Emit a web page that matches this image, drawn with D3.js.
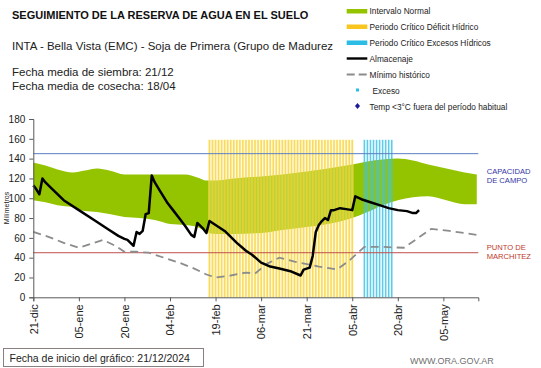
<!DOCTYPE html>
<html><head><meta charset="utf-8">
<script src="https://cdn.jsdelivr.net/npm/d3@7"></script>
<style>
body{margin:0;background:#fff;}
svg{display:block;font-family:"Liberation Sans",Arial,sans-serif;}
</style></head>
<body><svg id="c" width="541" height="368"></svg>
<script>
// ---- data ----
const xTickDates = ["2024-12-21","2025-01-05","2025-01-20","2025-02-04","2025-02-19","2025-03-06","2025-03-21","2025-04-05","2025-04-20","2025-05-05"];
const xTickLabels = ["21-dic","05-ene","20-ene","04-feb","19-feb","06-mar","21-mar","05-abr","20-abr","05-may"];
const yTicks = [0,20,40,60,80,100,120,140,160,180];

const bandDates = ["2024-12-21","2024-12-25","2024-12-29","2025-01-03","2025-01-07","2025-01-11","2025-01-15","2025-01-20","2025-01-25","2025-01-30","2025-02-04","2025-02-09","2025-02-13","2025-02-16","2025-02-19","2025-02-25","2025-03-06","2025-03-13","2025-03-21","2025-03-28","2025-04-05","2025-04-10","2025-04-15","2025-04-20","2025-04-25","2025-04-30","2025-05-06","2025-05-12","2025-05-16"];
const bandUpper = [136,133,129,126,128,130,128,124,124,124,124,124,121,118,118,120,122,124,127,130,134,137,139,140,138,134,130,126,124];
const bandLower = [98,96,93,91,87,86,84,81,80,78,74,73,71,66,64,64,65,68,71,74,80,86,93,98,101,102,98,94,94];

const storageDates = ["2024-12-21","2024-12-22","2024-12-23","2024-12-24","2024-12-25","2024-12-27","2024-12-31","2025-01-05","2025-01-10","2025-01-15","2025-01-18","2025-01-20","2025-01-21","2025-01-22","2025-01-23","2025-01-24","2025-01-25","2025-01-26","2025-01-27","2025-01-28","2025-01-29","2025-01-30","2025-02-01","2025-02-03","2025-02-05","2025-02-07","2025-02-09","2025-02-11","2025-02-12","2025-02-13","2025-02-14","2025-02-15","2025-02-16","2025-02-17","2025-02-19","2025-02-22","2025-02-26","2025-03-01","2025-03-03","2025-03-06","2025-03-09","2025-03-12","2025-03-16","2025-03-19","2025-03-20","2025-03-21","2025-03-22","2025-03-23","2025-03-24","2025-03-25","2025-03-26","2025-03-27","2025-03-28","2025-03-29","2025-03-30","2025-04-01","2025-04-03","2025-04-05","2025-04-06","2025-04-08","2025-04-11","2025-04-14","2025-04-17","2025-04-20","2025-04-23","2025-04-25","2025-04-26","2025-04-27"];
const storageValues = [113,109,104,120,116,110,98,88,78,68,62,59,58,55,52,66,64,67,84,85,123,116,106,96,88,80,72,63,61,75,72,69,65,77,73,67,55,47,43,35,31,29,26,22,28,29,30,42,66,73,77,80,78,88,88,90,89,88,102,99,96,93,90,88,87,85,85,88];

const minDates = ["2024-12-21","2024-12-26","2024-12-31","2025-01-05","2025-01-09","2025-01-13","2025-01-17","2025-01-20","2025-01-24","2025-01-28","2025-02-02","2025-02-07","2025-02-12","2025-02-16","2025-02-19","2025-02-24","2025-03-01","2025-03-04","2025-03-08","2025-03-12","2025-03-17","2025-03-25","2025-03-31","2025-04-04","2025-04-09","2025-04-14","2025-04-22","2025-05-01","2025-05-07","2025-05-16"];
const minValues = [66,61,55,50,54,58,52,46,46,45,40,35,29,23,20,22,25,24,34,40,36,31,28,37,51,51,50,69,67,63];

const deficitPeriod = ["2025-02-17","2025-04-05"];
const excessPeriod = ["2025-04-09","2025-04-18"];
const periodTop = 159;
const fieldCapacity = 145;
const wiltingPoint = 45;

// ---- setup ----
const P = d3.utcParse("%Y-%m-%d");
const svg = d3.select("#c");
const x = d3.scaleUtc().domain([P("2024-12-21"), new Date(Date.UTC(2025,4,16,12))]).range([33.3, 478.3]);
const y = d3.scaleLinear().domain([0,180]).range([297.3, 119]);

// band
const band = bandDates.map((d,i)=>({d:P(d),u:bandUpper[i],l:bandLower[i]}));
svg.append("path").datum(band)
  .attr("d", d3.area().x(d=>x(d.d)).y0(d=>y(d.l)).y1(d=>y(d.u)).curve(d3.curveMonotoneX))
  .attr("fill","#94c400");

// period bars
const defDays = d3.utcDay.range(P(deficitPeriod[0]), d3.utcDay.offset(P(deficitPeriod[1]),1));
svg.append("g").selectAll("rect").data(defDays).join("rect")
  .attr("x", d=>x(d)-1.5).attr("width",3).attr("y", y(periodTop)).attr("height", y(0)-y(periodTop))
  .attr("fill","#fff0a0").attr("opacity",0.4);
svg.append("g").selectAll("rect").data(defDays).join("rect")
  .attr("x", d=>x(d)-0.8).attr("width",1.6).attr("y", y(periodTop)).attr("height", y(0)-y(periodTop))
  .attr("fill","#f5cf2a").attr("opacity",0.7);
const excDays = d3.utcDay.range(P(excessPeriod[0]), d3.utcDay.offset(P(excessPeriod[1]),1));
svg.append("g").selectAll("rect").data(excDays).join("rect")
  .attr("x", d=>x(d)-0.8).attr("width",1.6).attr("y", y(periodTop)).attr("height", y(0)-y(periodTop))
  .attr("fill","#3fc3e6").attr("opacity",0.85);

// reference lines
svg.append("line").attr("x1",x.range()[0]).attr("x2",x.range()[1]).attr("y1",y(fieldCapacity)).attr("y2",y(fieldCapacity)).attr("stroke","#5b7fc4").attr("stroke-width",1);
svg.append("line").attr("x1",x.range()[0]).attr("x2",x.range()[1]).attr("y1",y(wiltingPoint)).attr("y2",y(wiltingPoint)).attr("stroke","#c0504d").attr("stroke-width",1);

// minimum line
const mins = minDates.map((d,i)=>({d:P(d),v:minValues[i]}));
svg.append("path").datum(mins).attr("d", d3.line().x(d=>x(d.d)).y(d=>y(d.v)))
  .attr("fill","none").attr("stroke","#8c8c8c").attr("stroke-width",1.8).attr("stroke-dasharray","8,5");

// storage line
const st = storageDates.map((d,i)=>({d:P(d),v:storageValues[i]}));
svg.append("path").datum(st).attr("d", d3.line().x(d=>x(d.d)).y(d=>y(d.v)))
  .attr("fill","none").attr("stroke","#000").attr("stroke-width",2.5).attr("stroke-linejoin","round");

// axes
const ya = svg.append("g").attr("transform",`translate(${x.range()[0]},0)`)
  .call(d3.axisLeft(y).tickValues(yTicks).tickSize(4).tickPadding(4));
ya.select(".domain").attr("stroke","#595959");
ya.selectAll(".tick line").attr("stroke","#595959");
ya.selectAll("text").attr("font-size","10px").attr("fill","#222").attr("font-family","Liberation Sans, Arial");

const xa = svg.append("g").attr("transform",`translate(0,${y(0)})`)
  .call(d3.axisBottom(x).tickValues(xTickDates.map(P)).tickFormat((d,i)=>xTickLabels[i]).tickSize(4));
xa.select(".domain").attr("stroke","#595959");
xa.selectAll(".tick line").attr("stroke","#595959");
xa.selectAll("text").attr("font-size","11px").attr("fill","#222").attr("font-family","Liberation Sans, Arial")
  .attr("transform","rotate(-90)").attr("x",-7).attr("y",0).attr("dy","0.35em").style("text-anchor","end");

svg.append("text").attr("transform","translate(8.5,208) rotate(-90)").attr("text-anchor","middle")
  .attr("font-size","7px").attr("fill","#222").text("Milímetros");

// titles
svg.append("text").attr("x",12).attr("y",19).attr("font-size","11px").attr("font-weight","bold").attr("fill","#111").text("SEGUIMIENTO DE LA RESERVA DE AGUA  EN EL SUELO");
svg.append("text").attr("x",12).attr("y",50).attr("font-size","11.5px").attr("fill","#222").text("INTA - Bella Vista (EMC) - Soja de Primera (Grupo de Madurez");
svg.append("text").attr("x",12).attr("y",76).attr("font-size","11.5px").attr("fill","#222").text("Fecha media de siembra: 21/12");
svg.append("text").attr("x",12).attr("y",90).attr("font-size","11.5px").attr("fill","#222").text("Fecha media de cosecha: 18/04");

// legend
const lg = svg.append("g").attr("font-size","8.3px").attr("fill","#222");
const lx0 = 346.7, lx1 = 367.3, tx = 369.5;
lg.append("rect").attr("x",lx0).attr("y",9).attr("width",lx1-lx0).attr("height",4.5).attr("fill","#94c400");
lg.append("text").attr("x",tx).attr("y",14).text("Intervalo Normal");
lg.append("rect").attr("x",lx0).attr("y",24.5).attr("width",lx1-lx0).attr("height",4.5).attr("fill","#f8c61e");
lg.append("text").attr("x",tx).attr("y",30).text("Periodo Crítico Déficit Hídrico");
lg.append("rect").attr("x",lx0).attr("y",40.5).attr("width",lx1-lx0).attr("height",4.5).attr("fill","#2cbde6");
lg.append("text").attr("x",tx).attr("y",46).text("Periodo Crítico Excesos Hídricos");
lg.append("line").attr("x1",lx0).attr("x2",lx1).attr("y1",58.5).attr("y2",58.5).attr("stroke","#000").attr("stroke-width",2.4);
lg.append("text").attr("x",tx).attr("y",62).text("Almacenaje");
lg.append("line").attr("x1",lx0).attr("x2",lx1).attr("y1",74.5).attr("y2",74.5).attr("stroke","#8c8c8c").attr("stroke-width",1.8).attr("stroke-dasharray","8,4");
lg.append("text").attr("x",tx).attr("y",78).text("Mínimo histórico");
lg.append("rect").attr("x",356).attr("y",88.5).attr("width",3).attr("height",3).attr("fill","#2cbde6");
lg.append("text").attr("x",372.5).attr("y",93.5).text("Exceso");
lg.append("path").attr("d","M357.5,103 L360,106 L357.5,109 L355,106 Z").attr("fill","#1a1a9a");
lg.append("text").attr("x",tx).attr("y",109.5).text("Temp <3°C fuera del período habitual");

// right labels
const rl = svg.append("g").attr("font-size","7.6px");
rl.append("text").attr("x",486.7).attr("y",173.5).attr("fill","#3535a5").text("CAPACIDAD");
rl.append("text").attr("x",486.7).attr("y",182.5).attr("fill","#3535a5").text("DE  CAMPO");
rl.append("text").attr("x",486.7).attr("y",249.5).attr("fill","#c0392b").text("PUNTO   DE");
rl.append("text").attr("x",486.7).attr("y",258.5).attr("fill","#c0392b").text("MARCHITEZ");

// footer
svg.append("rect").attr("x",3.5).attr("y",348.5).attr("width",200).attr("height",18).attr("fill","none").attr("stroke","#8a7f7f").attr("stroke-width",1);
svg.append("text").attr("x",9.5).attr("y",361.5).attr("font-size","10.5px").attr("fill","#222").text("Fecha de inicio del gráfico:   21/12/2024");
svg.append("text").attr("x",410).attr("y",364).attr("font-size","9px").attr("fill","#707070").text("WWW.ORA.GOV.AR");
</script></body></html>
